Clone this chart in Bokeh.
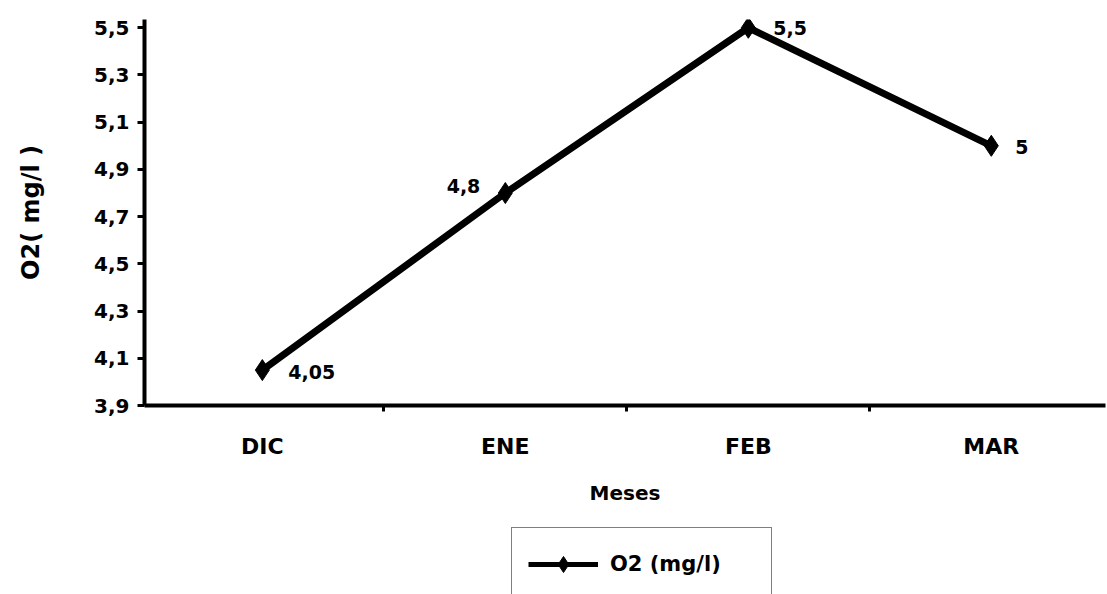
from bokeh.plotting import figure
from bokeh.layouts import column
from bokeh.models import Range1d, FixedTicker, Legend, LegendItem, ColumnDataSource
from bokeh.core.properties import value
from bokeh.embed import file_html
from bokeh.resources import INLINE

# ---- data ----
months = ["DIC", "ENE", "FEB", "MAR"]
o2 = [4.05, 4.8, 5.5, 5.0]
o2_labels = ["4,05", "4,8", "5,5", "5"]
y_ticks = [3.9, 4.1, 4.3, 4.5, 4.7, 4.9, 5.1, 5.3, 5.5]
y_tick_labels = ["3,9", "4,1", "4,3", "4,5", "4,7", "4,9", "5,1", "5,3", "5,5"]
series_name = "O2 (mg/l)"

# label placement (style)
label_align = ["left", "right", "left", "left"]
label_dx = [26, -25, 25, 24]
label_dy = [2, -7, 0, 1]

FONT = "DejaVu Sans"

xs = list(range(len(months)))
src = ColumnDataSource(dict(x=xs, y=o2, lab=o2_labels, al=label_align, dx=label_dx, dy=label_dy))

p = figure(width=1107, height=510, output_backend="svg", toolbar_location=None,
           x_range=Range1d(-0.485, 3.47), y_range=Range1d(3.9, 5.535),
           min_border_left=144, min_border_right=2, min_border_top=19, min_border_bottom=105)
p.outline_line_color = None
p.xgrid.grid_line_color = None
p.ygrid.grid_line_color = None
p.background_fill_color = "white"
p.border_fill_color = "white"

ln = p.line("x", "y", source=src, line_width=7, line_color="black")
mk = p.scatter("x", "y", source=src, marker="diamond", size=21, fill_color="black", line_color="black")
p.text("x", "y", text="lab", source=src, text_align="al", text_baseline="middle",
       x_offset="dx", y_offset="dy", text_font=value(FONT), text_font_style="bold",
       text_font_size="19px", text_color="black")

# x axis
xa = p.xaxis[0]
xa.ticker = FixedTicker(ticks=xs, minor_ticks=[0.5, 1.5, 2.5])
xa.major_label_overrides = {i: m for i, m in enumerate(months)}
xa.major_tick_line_color = None
xa.minor_tick_out = 6
xa.minor_tick_in = 0
xa.minor_tick_line_width = 3
xa.minor_tick_line_color = "black"
xa.axis_line_width = 4
xa.axis_line_color = "black"
xa.major_label_text_font = FONT
xa.major_label_text_font_style = "bold"
xa.major_label_text_font_size = "22px"
xa.major_label_text_color = "black"
xa.major_label_standoff = 22
xa.axis_label = "Meses"
xa.axis_label_text_font = FONT
xa.axis_label_text_font_style = "bold"
xa.axis_label_text_font_size = "20px"
xa.axis_label_text_color = "black"
xa.axis_label_standoff = 19

# y axis
ya = p.yaxis[0]
ya.ticker = FixedTicker(ticks=y_ticks, minor_ticks=[])
ya.major_label_overrides = {t: l for t, l in zip(y_ticks, y_tick_labels)}
ya.major_tick_out = 7
ya.major_tick_in = 0
ya.major_tick_line_width = 3
ya.axis_line_width = 4
ya.axis_line_color = "black"
ya.major_label_text_font = FONT
ya.major_label_text_font_style = "bold"
ya.major_label_text_font_size = "20px"
ya.major_label_text_color = "black"
ya.major_label_standoff = 8
ya.axis_label = "O2( mg/l )"
ya.axis_label_text_font = FONT
ya.axis_label_text_font_style = "bold"
ya.axis_label_text_font_size = "24px"
ya.axis_label_text_color = "black"
ya.axis_label_standoff = 46

# ---- legend strip below the chart ----
p2 = figure(width=1107, height=84, output_backend="svg", toolbar_location=None,
            x_range=Range1d(100, 101), y_range=Range1d(100, 101),
            x_axis_location=None, y_axis_location=None, min_border=0)
p2.outline_line_color = None
p2.xgrid.grid_line_color = None
p2.ygrid.grid_line_color = None
ln2 = p2.line("x", "y", source=src, line_width=5, line_color="black")
mk2 = p2.scatter("x", "y", source=src, marker="diamond", size=20, fill_color="black", line_color="black")

legend = Legend(items=[LegendItem(label=series_name, renderers=[ln2, mk2])],
                location=(367, -7), orientation="vertical",
                border_line_color="black", border_line_width=1.5,
                background_fill_color="white", background_fill_alpha=1,
                label_text_font=FONT, label_text_font_style="bold",
                label_text_font_size="21px", label_text_color="black",
                glyph_width=70, glyph_height=40, label_standoff=12, label_width=145,
                padding=16, margin=0)
p2.add_layout(legend, "center")

layout = column(p, p2, spacing=0)
open("out.html", "w").write(file_html(layout, INLINE))
